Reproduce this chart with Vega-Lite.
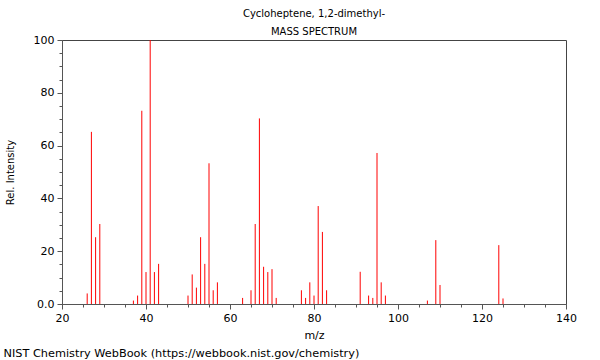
{
  "$schema": "https://vega.github.io/schema/vega-lite/v6.json",
  "width": 504,
  "height": 264,
  "autosize": {"type": "none"},
  "padding": {"left": 62, "top": 40, "right": 34, "bottom": 56},
  "background": "white",
  "config": {
    "font": "DejaVu Sans",
    "view": {"stroke": "#444444", "strokeWidth": 1}
  },
  "title": {
    "text": ["Cycloheptene, 1,2-dimethyl-", "MASS SPECTRUM"],
    "fontSize": 10,
    "fontWeight": "normal",
    "lineHeight": 18,
    "offset": -3,
    "anchor": "middle",
    "color": "black"
  },
  "data": {
    "values": [
      {"mz": 26, "intensity": 4.0},
      {"mz": 27, "intensity": 65.2},
      {"mz": 28, "intensity": 25.3},
      {"mz": 29, "intensity": 30.3},
      {"mz": 37, "intensity": 1.3},
      {"mz": 38, "intensity": 3.2},
      {"mz": 39, "intensity": 73.2},
      {"mz": 40, "intensity": 12.1},
      {"mz": 41, "intensity": 100},
      {"mz": 42, "intensity": 12.1},
      {"mz": 43, "intensity": 15.2},
      {"mz": 50, "intensity": 3.2},
      {"mz": 51, "intensity": 11.2},
      {"mz": 52, "intensity": 6.2},
      {"mz": 53, "intensity": 25.3},
      {"mz": 54, "intensity": 15.2},
      {"mz": 55, "intensity": 53.3},
      {"mz": 56, "intensity": 5.2},
      {"mz": 57, "intensity": 8.2},
      {"mz": 63, "intensity": 2.3},
      {"mz": 65, "intensity": 5.2},
      {"mz": 66, "intensity": 30.3},
      {"mz": 67, "intensity": 70.3},
      {"mz": 68, "intensity": 14.1},
      {"mz": 69, "intensity": 12.1},
      {"mz": 70, "intensity": 13.2},
      {"mz": 71, "intensity": 2.3},
      {"mz": 77, "intensity": 5.2},
      {"mz": 78, "intensity": 2.3},
      {"mz": 79, "intensity": 8.2},
      {"mz": 80, "intensity": 3.2},
      {"mz": 81, "intensity": 37.1},
      {"mz": 82, "intensity": 27.3},
      {"mz": 83, "intensity": 5.2},
      {"mz": 91, "intensity": 12.2},
      {"mz": 93, "intensity": 3.2},
      {"mz": 94, "intensity": 2.3},
      {"mz": 95, "intensity": 57.2},
      {"mz": 96, "intensity": 8.2},
      {"mz": 97, "intensity": 3.2},
      {"mz": 107, "intensity": 1.3},
      {"mz": 109, "intensity": 24.2},
      {"mz": 110, "intensity": 7.2},
      {"mz": 124, "intensity": 22.3},
      {"mz": 125, "intensity": 2.1}
    ]
  },
  "layer": [
    {
      "mark": {"type": "rule", "color": "#ff0000", "strokeWidth": 1},
      "encoding": {
        "x": {
          "field": "mz",
          "type": "quantitative",
          "scale": {"domain": [20, 140], "nice": false, "zero": false},
          "axis": {
            "orient": "bottom",
            "values": [20,25,30,35,40,45,50,55,60,65,70,75,80,85,90,95,100,105,110,115,120,125,130,135,140],
            "labelExpr": "datum.value % 20 == 0 ? datum.label : ''",
            "tickSize": {"condition": {"test": "datum.value % 20 == 0", "value": 5}, "value": 3},
            "grid": false,
            "title": "m/z",
            "titleFontWeight": "normal",
            "titleFontSize": 11,
            "titleColor": "black",
            "titlePadding": 6,
            "labelFontSize": 11,
            "labelColor": "black",
            "labelPadding": 3,
            "labelFlush": false,
            "labelOverlap": false,
            "domainColor": "#555555",
            "tickColor": "#555555"
          }
        },
        "y": {
          "field": "intensity",
          "type": "quantitative",
          "scale": {"domain": [0, 100], "nice": false},
          "axis": {
            "values": [0,5,10,15,20,25,30,35,40,45,50,55,60,65,70,75,80,85,90,95,100],
            "labelExpr": "datum.value % 20 == 0 ? (datum.value == 0 ? '0.0' : datum.label) : ''",
            "tickSize": {"condition": {"test": "datum.value % 20 == 0", "value": 5}, "value": 3},
            "grid": false,
            "title": "Rel. Intensity",
            "titleFontWeight": "normal",
            "titleFontSize": 10,
            "titleColor": "black",
            "titlePadding": 18,
            "labelFontSize": 11,
            "labelColor": "black",
            "labelPadding": 3,
            "labelFlush": false,
            "labelOverlap": false,
            "domainColor": "#555555",
            "tickColor": "#555555"
          }
        },
        "y2": {"datum": 0}
      }
    },
    {
      "mark": {"type": "rule", "opacity": 0},
      "encoding": {
        "x": {
          "field": "mz",
          "type": "quantitative",
          "axis": {
            "orient": "bottom",
            "labels": false,
            "ticks": false,
            "domain": false,
            "grid": false,
            "title": "NIST Chemistry WebBook (https://webbook.nist.gov/chemistry)",
            "titleFontWeight": "normal",
            "titleFontSize": 11.3,
            "titleColor": "black",
            "titleAnchor": "start",
            "titleAlign": "left",
            "titleBaseline": "middle",
            "titleX": -59,
            "titleY": 49
          }
        }
      }
    }
  ],
  "resolve": {"axis": {"x": "independent"}}
}
